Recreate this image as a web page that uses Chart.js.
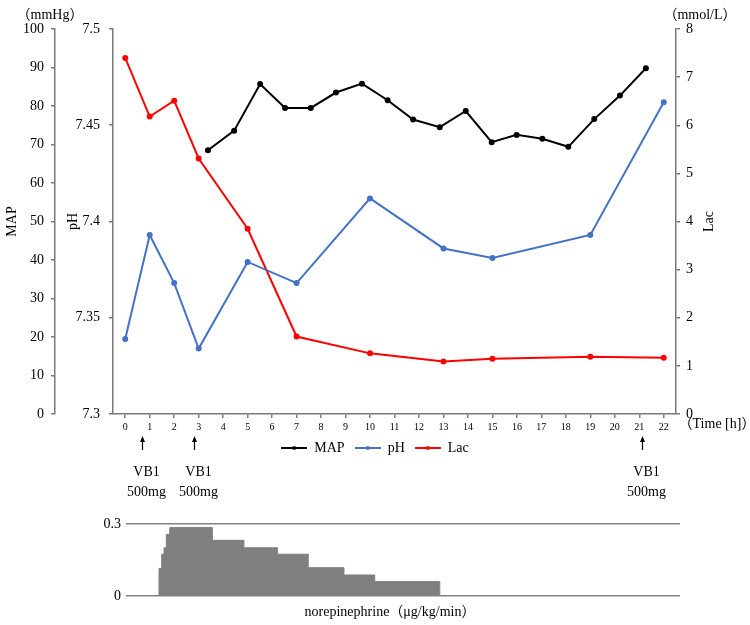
<!DOCTYPE html>
<html>
<head>
<meta charset="utf-8">
<script src="https://cdn.jsdelivr.net/npm/chart.js@4.4.1/dist/chart.umd.min.js"></script>
<style>
  html, body { margin: 0; padding: 0; background: #fff; }
  #wrap { position: relative; width: 750px; height: 625px; }
  #mainChart { position: absolute; left: 0; top: 0; }
  #noreChart { position: absolute; left: 0; top: 505px; }
</style>
</head>
<body>
<div id="wrap">
  <canvas id="mainChart" width="750" height="505"></canvas>
  <canvas id="noreChart" width="750" height="120"></canvas>
</div>
<script>
// time axis (hours)
const hourTicks = [0, 1, 2, 3, 4, 5, 6, 7, 8, 9, 10, 11, 12, 13, 14, 15, 16, 17, 18, 19, 20, 21, 22];

// blood gas samples
const labTimes = [0, 1, 2, 3, 5, 7, 10, 13, 15, 19, 22];
const phValues = [7.339, 7.393, 7.368, 7.334, 7.379, 7.368, 7.412, 7.386, 7.381, 7.393, 7.462];
const lacValues = [7.40, 6.18, 6.51, 5.31, 3.85, 1.61, 1.26, 1.09, 1.15, 1.19, 1.17];

// MAP readings
const mapTimes = [3.38, 4.45, 5.51, 6.53, 7.58, 8.61, 9.67, 10.72, 11.76, 12.85, 13.91, 14.97, 15.99, 17.04, 18.1, 19.16, 20.21, 21.27];
const mapValues = [68.5, 73.6, 85.7, 79.5, 79.5, 83.5, 85.8, 81.5, 76.5, 74.5, 78.7, 70.6, 72.5, 71.5, 69.4, 76.6, 82.7, 89.8];

// VB1 doses
const vb1Times = [0.68, 2.82, 21.13];
const vb1Lines = ['VB1', '500mg'];

// norepinephrine steps (ug/kg/min)
const noreTimes = [1.35, 1.35, 1.46, 1.555, 1.65, 1.79, 3.53, 4.82, 6.19, 7.45, 8.91, 10.17, 12.83, 12.83];
const noreDoses = [0, 0.115, 0.174, 0.201, 0.257, 0.285, 0.232, 0.201, 0.174, 0.118, 0.0875, 0.06, 0.06, 0];

const serif = '"Liberation Serif", "Noto Sans CJK JP", serif';
const axisGray = '#7a7a7a';
Chart.defaults.font.family = serif;
Chart.defaults.font.size = 14;
Chart.defaults.color = '#000';

function toPoints(xs, ys) {
    return xs.map((x, i) => ({ x: x, y: ys[i] }));
}

// small line+dot marker for the legend
function legendMarker(color) {
    const c = document.createElement('canvas');
    c.width = 26;
    c.height = 8;
    const g = c.getContext('2d');
    g.strokeStyle = color;
    g.lineWidth = 2;
    g.beginPath();
    g.moveTo(0, 4);
    g.lineTo(26, 4);
    g.stroke();
    g.fillStyle = color;
    g.beginPath();
    g.arc(13, 4, 2, 0, Math.PI * 2);
    g.fill();
    return c;
}

function sideAxis(extra) {
    return Object.assign({
        grid: { drawOnChartArea: false, drawTicks: true, tickLength: 4, color: axisGray, lineWidth: 1.5 },
        border: { display: true, color: axisGray, width: 1.5 }
    }, extra);
}

// units, Lac title, time label and VB1 arrows
const annotatePlugin = {
    id: 'annotate',
    afterDraw(chart) {
        const ctx = chart.ctx;
        const area = chart.chartArea;
        const xs = chart.scales.x;
        ctx.save();
        ctx.fillStyle = '#000';
        ctx.strokeStyle = '#000';
        ctx.font = '14px ' + serif;
        ctx.textAlign = 'center';
        ctx.textBaseline = 'middle';
        ctx.fillText('（mmHg）', 50, 15);
        ctx.fillText('（mmol/L）', 700, 15);
        ctx.fillText('（Time [h]）', 717, 424);

        ctx.save();
        ctx.translate(area.right + 33, (area.top + area.bottom) / 2);
        ctx.rotate(-Math.PI / 2);
        ctx.fillText('Lac', 0, 0);
        ctx.restore();

        vb1Times.forEach(t => {
            const px = Math.round(xs.getPixelForValue(t)) + 0.5;
            ctx.lineWidth = 1.2;
            ctx.beginPath();
            ctx.moveTo(px, 450);
            ctx.lineTo(px, 440);
            ctx.stroke();
            ctx.beginPath();
            ctx.moveTo(px, 436);
            ctx.lineTo(px - 2.5, 442);
            ctx.lineTo(px + 2.5, 442);
            ctx.closePath();
            ctx.fill();
            ctx.fillText(vb1Lines[0], px + 4, 472);
            ctx.fillText(vb1Lines[1], px + 4, 492);
        });
        ctx.restore();
    }
};

new Chart(document.getElementById('mainChart'), {
    type: 'line',
    data: {
        datasets: [
            {
                label: 'MAP',
                data: toPoints(mapTimes, mapValues),
                yAxisID: 'yMap',
                borderColor: '#000000',
                backgroundColor: '#000000',
                borderWidth: 2,
                pointRadius: 2
            },
            {
                label: 'pH',
                data: toPoints(labTimes, phValues),
                yAxisID: 'yPh',
                borderColor: '#4472C4',
                backgroundColor: '#4472C4',
                borderWidth: 2,
                pointRadius: 2
            },
            {
                label: 'Lac',
                data: toPoints(labTimes, lacValues),
                yAxisID: 'yLac',
                borderColor: '#FF0000',
                backgroundColor: '#FF0000',
                borderWidth: 2,
                pointRadius: 2
            }
        ]
    },
    options: {
        responsive: false,
        animation: false,
        layout: { padding: { top: 29, left: 0, right: 0, bottom: 40 } },
        plugins: {
            tooltip: { enabled: false },
            legend: {
                position: 'bottom',
                labels: {
                    usePointStyle: true,
                    pointStyleWidth: 26,
                    padding: 10,
                    font: { size: 14 },
                    generateLabels(chart) {
                        return chart.data.datasets.map((ds, i) => ({
                            text: ds.label,
                            pointStyle: legendMarker(ds.borderColor),
                            fillStyle: ds.borderColor,
                            strokeStyle: ds.borderColor,
                            lineWidth: 0,
                            hidden: false,
                            datasetIndex: i,
                            fontColor: '#000'
                        }));
                    }
                }
            }
        },
        scales: {
            x: sideAxis({
                type: 'linear',
                min: -0.5,
                max: 22.5,
                afterBuildTicks: s => { s.ticks = hourTicks.map(v => ({ value: v })); },
                afterFit: s => { s.height = 17; },
                ticks: { font: { size: 10 }, padding: 3, autoSkip: false, maxRotation: 0 }
            }),
            yMap: sideAxis({
                position: 'left',
                weight: 2,
                min: 0,
                max: 100,
                afterFit: s => { s.width = 55; },
                ticks: { stepSize: 10, padding: 7 },
                title: { display: true, text: 'MAP', font: { size: 14 }, padding: { top: 4, bottom: 0 } }
            }),
            yPh: sideAxis({
                position: 'left',
                weight: 1,
                min: 7.3,
                max: 7.5,
                afterBuildTicks: s => { s.ticks = [7.3, 7.35, 7.4, 7.45, 7.5].map(v => ({ value: v })); },
                afterFit: s => { s.width = 58; },
                ticks: { padding: 9, callback: v => String(+v.toFixed(2)) },
                title: { display: true, text: 'pH', font: { size: 14 }, padding: { top: 10, bottom: 0 } }
            }),
            yLac: sideAxis({
                position: 'right',
                min: 0,
                max: 8,
                afterFit: s => { s.width = 74; },
                ticks: { stepSize: 1, padding: 6 }
            })
        }
    },
    plugins: [annotatePlugin]
});

const noreTitlePlugin = {
    id: 'noreTitle',
    afterDraw(chart) {
        const ctx = chart.ctx;
        ctx.save();
        ctx.fillStyle = '#000';
        ctx.font = '14px ' + serif;
        ctx.textAlign = 'center';
        ctx.textBaseline = 'middle';
        ctx.fillText('norepinephrine（μg/kg/min）', 390, 107);
        ctx.restore();
    }
};

new Chart(document.getElementById('noreChart'), {
    type: 'line',
    data: {
        datasets: [{
            label: 'norepinephrine',
            data: toPoints(noreTimes, noreDoses),
            stepped: true,
            fill: 'origin',
            backgroundColor: '#7f7f7f',
            borderColor: '#7f7f7f',
            borderWidth: 1,
            pointRadius: 0
        }]
    },
    options: {
        responsive: false,
        animation: false,
        layout: { padding: { top: 19, bottom: 29, left: 0, right: 70 } },
        plugins: { legend: { display: false }, tooltip: { enabled: false } },
        scales: {
            x: { type: 'linear', display: false, min: 0, max: 22.65 },
            y: {
                min: 0,
                max: 0.3,
                afterBuildTicks: s => { s.ticks = [{ value: 0 }, { value: 0.3 }]; },
                afterFit: s => { s.width = 126; },
                ticks: { padding: 5, callback: v => String(v) },
                grid: { color: '#808080', lineWidth: 1.5, drawTicks: false },
                border: { display: false }
            }
        }
    },
    plugins: [noreTitlePlugin]
});
</script>
</body>
</html>
